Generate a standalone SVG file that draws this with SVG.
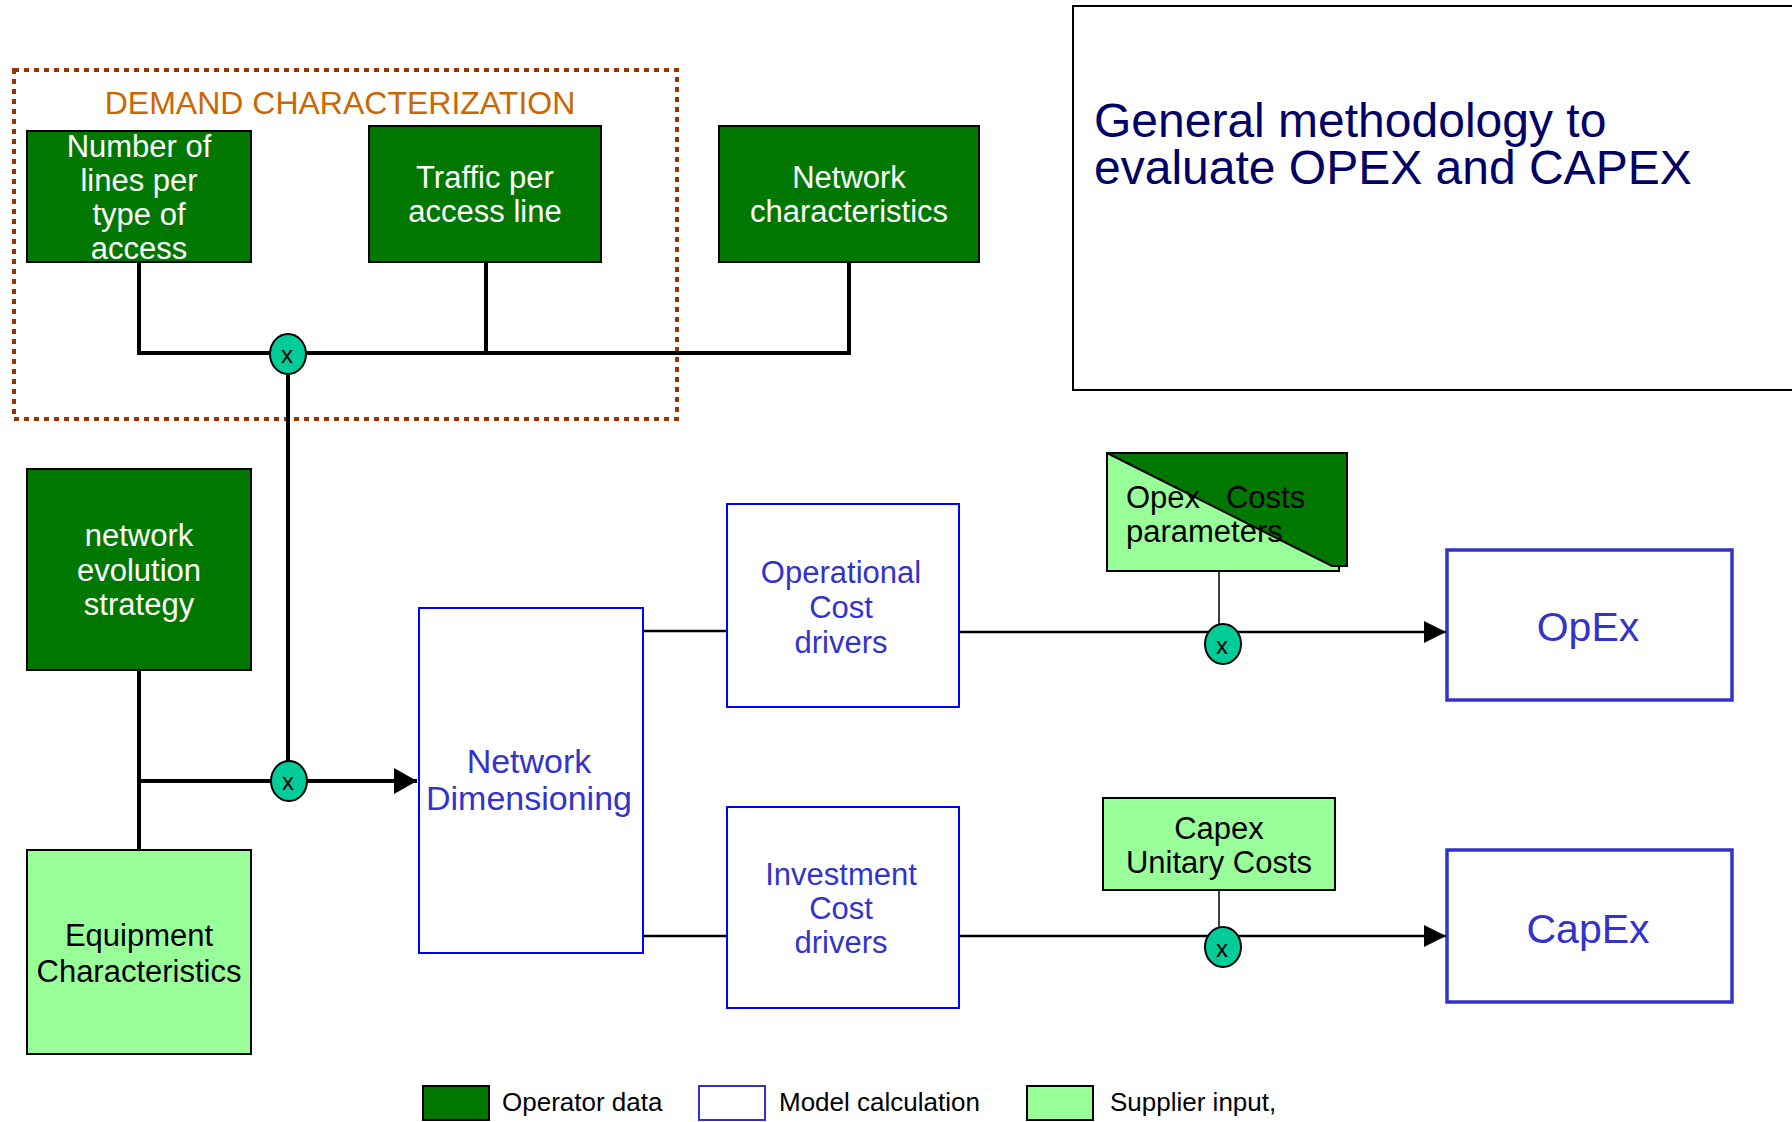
<svg xmlns="http://www.w3.org/2000/svg" width="1792" height="1122" viewBox="0 0 1792 1122">
  <style>
    text { font-family: "Liberation Sans", Arial, sans-serif; }
    .op { fill: #007800; stroke: #000; stroke-width: 2; }
    .sup { fill: #99ff99; stroke: #000; stroke-width: 2; }
    .calc { fill: #fff; stroke: #0000ff; stroke-width: 2; }
    .result { fill: #fff; stroke: #3333cc; stroke-width: 3.5; }
    .wt { fill: #fff; font-size: 31px; text-anchor: middle; }
    .bk { fill: #000; font-size: 31px; text-anchor: middle; }
    .bl { fill: #3333cc; font-size: 31px; text-anchor: middle; }
    .bl.big { font-size: 34px; }
    .bl.res { font-size: 41px; }
    .mul ellipse { fill: #00cc99; stroke: #000; stroke-width: 2; }
    .mul text { fill: #000; font-size: 24px; text-anchor: middle; }
    .thick { fill: none; stroke: #000; stroke-width: 4; }
    .thin { fill: none; stroke: #000; stroke-width: 2.5; }
    .hair { fill: none; stroke: #000; stroke-width: 1.5; }
    .leg { fill: #000; font-size: 26px; }
  </style>
  <defs>
    <marker id="arrow-big" markerUnits="userSpaceOnUse" markerWidth="24" markerHeight="26" refX="23" refY="13" orient="auto">
      <path d="M0,0 L23,13 L0,26 Z" fill="#000"/>
    </marker>
    <marker id="arrow" markerUnits="userSpaceOnUse" markerWidth="23" markerHeight="22" refX="22" refY="11" orient="auto">
      <path d="M0,0 L22,11 L0,22 Z" fill="#000"/>
    </marker>
  </defs>

  <!-- title panel -->
  <g id="title">
    <rect x="1073" y="6" width="800" height="384" fill="#fff" stroke="#000" stroke-width="2"/>
    <text x="1094" y="137" fill="#000066" font-size="48">General methodology to</text>
    <text x="1094" y="184" fill="#000066" font-size="48">evaluate OPEX and CAPEX</text>
  </g>

  <!-- demand characterization frame -->
  <g id="demand-group">
    <rect x="14" y="70" width="663" height="349" fill="none" stroke="#993300" stroke-width="4" stroke-dasharray="5 5"/>
    <text x="340" y="114" fill="#cc6600" font-size="32" text-anchor="middle">DEMAND CHARACTERIZATION</text>
  </g>

  <!-- connectors -->
  <g id="connectors">
    <polyline class="thick" points="139,262 139,353 849,353 849,262"/>
    <line class="thick" x1="486" y1="262" x2="486" y2="353"/>
    <line class="thick" x1="288" y1="374" x2="288" y2="762"/>
    <line class="thick" x1="139" y1="670" x2="139" y2="850"/>
    <line class="thick" x1="139" y1="781" x2="272" y2="781"/>
    <line class="thick" x1="306" y1="781" x2="417" y2="781" marker-end="url(#arrow-big)"/>
    <line class="thin" x1="643" y1="631" x2="727" y2="631"/>
    <line class="thin" x1="641" y1="936" x2="727" y2="936"/>
    <line class="thin" x1="959" y1="632" x2="1446" y2="632" marker-end="url(#arrow)"/>
    <line class="thin" x1="959" y1="936" x2="1446" y2="936" marker-end="url(#arrow)"/>
    <line class="hair" x1="1219" y1="571" x2="1219" y2="624"/>
    <line class="hair" x1="1219" y1="890" x2="1219" y2="928"/>
  </g>

  <!-- operator data -->
  <g id="lines-per-access">
    <rect class="op" x="27" y="131" width="224" height="131"/>
    <text class="wt" x="139" y="157">Number of</text>
    <text class="wt" x="139" y="191">lines per</text>
    <text class="wt" x="139" y="225">type of</text>
    <text class="wt" x="139" y="259">access</text>
  </g>
  <g id="traffic-per-line">
    <rect class="op" x="369" y="126" width="232" height="136"/>
    <text class="wt" x="485" y="188">Traffic per</text>
    <text class="wt" x="485" y="222">access line</text>
  </g>
  <g id="network-characteristics">
    <rect class="op" x="719" y="126" width="260" height="136"/>
    <text class="wt" x="849" y="188">Network</text>
    <text class="wt" x="849" y="222">characteristics</text>
  </g>
  <g id="evolution-strategy">
    <rect class="op" x="27" y="469" width="224" height="201"/>
    <text class="wt" x="139" y="546">network</text>
    <text class="wt" x="139" y="581">evolution</text>
    <text class="wt" x="139" y="615">strategy</text>
  </g>

  <!-- supplier input -->
  <g id="equipment">
    <rect class="sup" x="27" y="850" width="224" height="204"/>
    <text class="bk" x="139" y="946">Equipment</text>
    <text class="bk" x="139" y="982">Characteristics</text>
  </g>
  <g id="opex-params">
    <rect class="sup" x="1107" y="453" width="232" height="118"/>
    <polygon points="1107,453 1347,453 1347,566 1332,566" fill="#007800" stroke="#000" stroke-width="2"/>
    <text x="1126" y="508" fill="#000" font-size="31" xml:space="preserve">Opex   Costs</text>
    <text x="1126" y="542" fill="#000" font-size="31">parameters</text>
  </g>
  <g id="capex-costs">
    <rect class="sup" x="1103" y="798" width="232" height="92"/>
    <text class="bk" x="1219" y="839">Capex</text>
    <text class="bk" x="1219" y="873">Unitary Costs</text>
  </g>

  <!-- model calculation -->
  <g id="dimensioning">
    <rect class="calc" x="419" y="608" width="224" height="345"/>
    <text class="bl big" x="529" y="773">Network</text>
    <text class="bl big" x="529" y="810">Dimensioning</text>
  </g>
  <g id="opex-drivers">
    <rect class="calc" x="727" y="504" width="232" height="203"/>
    <text class="bl" x="841" y="583">Operational</text>
    <text class="bl" x="841" y="618">Cost</text>
    <text class="bl" x="841" y="653">drivers</text>
  </g>
  <g id="capex-drivers">
    <rect class="calc" x="727" y="807" width="232" height="201"/>
    <text class="bl" x="841" y="885">Investment</text>
    <text class="bl" x="841" y="919">Cost</text>
    <text class="bl" x="841" y="953">drivers</text>
  </g>

  <!-- results -->
  <g id="opex">
    <rect class="result" x="1447" y="550" width="285" height="150"/>
    <text class="bl res" x="1588" y="641">OpEx</text>
  </g>
  <g id="capex">
    <rect class="result" x="1447" y="850" width="285" height="152"/>
    <text class="bl res" x="1588" y="943">CapEx</text>
  </g>

  <!-- multiplication points -->
  <g id="mul-demand" class="mul">
    <ellipse cx="288" cy="354" rx="18" ry="20"/>
    <text x="287" y="363">x</text>
  </g>
  <g id="mul-inputs" class="mul">
    <ellipse cx="289" cy="781" rx="18" ry="20"/>
    <text x="288" y="790">x</text>
  </g>
  <g id="mul-opex" class="mul">
    <ellipse cx="1223" cy="644" rx="18" ry="20"/>
    <text x="1222" y="654">x</text>
  </g>
  <g id="mul-capex" class="mul">
    <ellipse cx="1223" cy="947" rx="18" ry="20"/>
    <text x="1222" y="957">x</text>
  </g>

  <!-- legend -->
  <g id="legend">
    <rect x="423" y="1086" width="66" height="34" fill="#007800" stroke="#000" stroke-width="2"/>
    <text class="leg" x="502" y="1111">Operator data</text>
    <rect x="699" y="1086" width="66" height="34" fill="#fff" stroke="#3333cc" stroke-width="2"/>
    <text class="leg" x="779" y="1111">Model calculation</text>
    <rect x="1027" y="1086" width="66" height="34" fill="#99ff99" stroke="#000" stroke-width="2"/>
    <text class="leg" x="1110" y="1111">Supplier input,</text>
  </g>
</svg>
